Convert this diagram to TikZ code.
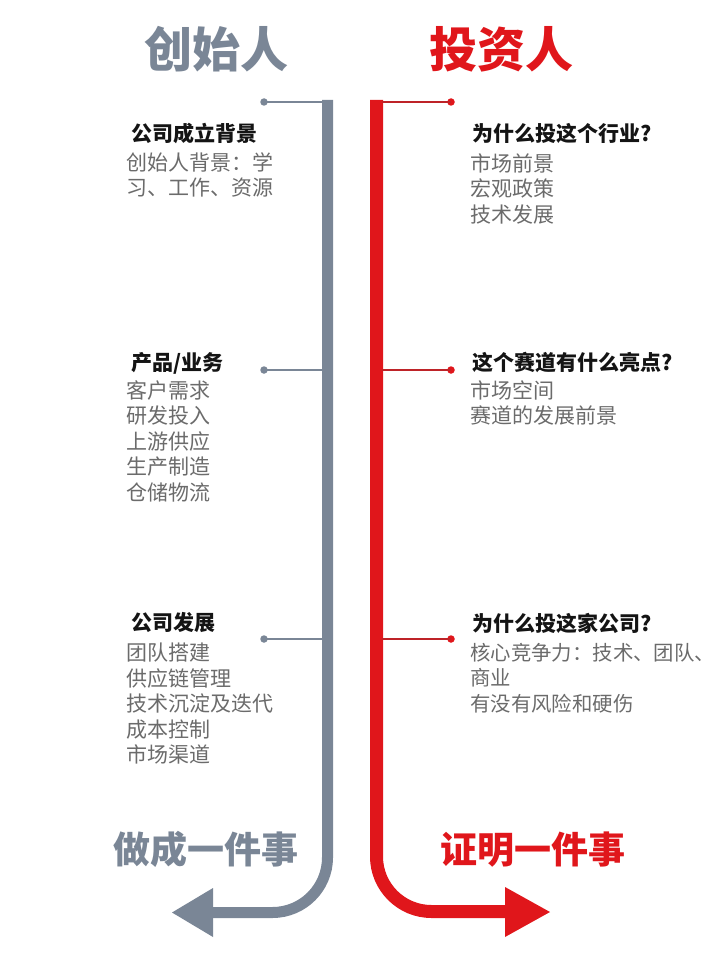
\documentclass[tikz,border=0pt]{standalone}
\usepackage{fontspec}
\newfontfamily\cjk{Noto Sans CJK SC}
\definecolor{slate}{HTML}{7A8696}
\definecolor{redA}{HTML}{E0161B}
\definecolor{redB}{HTML}{BE2328}
\definecolor{bodygray}{HTML}{6B6B6B}
\definecolor{headblack}{HTML}{141414}
\begin{document}
\begin{tikzpicture}[x=1pt,y=-1pt,
  head/.style={anchor=north west, inner sep=0pt, font=\cjk\bfseries\fontsize{21}{25.5}\selectfont, text=headblack},
  body/.style={anchor=north west, inner sep=0pt, align=left, font=\cjk\fontsize{21}{25.5}\selectfont, text=bodygray},
  title/.style={inner sep=0pt, font=\cjk\bfseries\fontsize{48}{48}\selectfont},
  motto/.style={inner sep=0pt, font=\cjk\bfseries\fontsize{37}{37}\selectfont},
  gbranch/.style={draw=slate, line width=2.5pt},
  rbranch/.style={draw=redB, line width=2.5pt},
  gdot/.style={circle, fill=slate, inner sep=0pt, minimum size=7.5pt},
  rdot/.style={circle, fill=redA, inner sep=0pt, minimum size=7.5pt},
  gtrunk/.style={draw=slate, line width=11pt, rounded corners=55pt},
  rtrunk/.style={draw=redA, line width=13pt, rounded corners=55pt}
]
\useasboundingbox (0,0) rectangle (720,960);

% titles
\node[title, text=slate] (t1) at (216,49.5) {创始人};
\node[title, text=redA] (t2) at (501,49.5) {投资人};

% trunks
\coordinate (gtop) at (327.5,100);
\coordinate (gcorner) at (327.5,912.5);
\coordinate (gend) at (210,912.5);
\coordinate (rtop) at (376.5,100);
\coordinate (rcorner) at (376.5,911.5);
\coordinate (rend) at (507,911.5);
\draw[gtrunk] (gtop) -- (gcorner) -- (gend);
\draw[rtrunk] (rtop) -- (rcorner) -- (rend);
\coordinate (gtip) at (172,912.5);
\coordinate (gb1) at (213,888);
\coordinate (gb2) at (213,937);
\fill[slate] (gtip) -- (gb1) -- (gb2) -- cycle;
\coordinate (rtip) at (550,912);
\coordinate (rb1) at (505,887);
\coordinate (rb2) at (505,937);
\fill[redA] (rtip) -- (rb1) -- (rb2) -- cycle;

% branches
\foreach \i/\yy in {1/102,2/370,3/639}{
  \node[gdot] (gd\i) at (264,\yy) {};
  \coordinate (gj\i) at (323,\yy);
  \draw[gbranch] (gd\i.center) -- (gj\i);
  \node[rdot] (rd\i) at (451,\yy) {};
  \coordinate (rj\i) at (382,\yy);
  \draw[rbranch] (rj\i) -- (rd\i.center);
}

% left texts
\node[head] (lh1) at (131,123) {公司成立背景};
\node[body] (lb1) at (126,152) {创始人背景：学\\习、工作、资源};
\node[head] (lh2) at (131,352) {产品/业务};
\node[body] (lb2) at (126,380) {客户需求\\研发投入\\上游供应\\生产制造\\仓储物流};
\node[head] (lh3) at (131,612) {公司发展};
\node[body] (lb3) at (126,643) {团队搭建\\供应链管理\\技术沉淀及迭代\\成本控制\\市场渠道};

% right texts
\node[head] (rh1) at (472,123) {为什么投这个行业?};
\node[body] (rb1t) at (470,153) {市场前景\\宏观政策\\技术发展};
\node[head] (rh2) at (472,352) {这个赛道有什么亮点?};
\node[body] (rb2t) at (470,380) {市场空间\\赛道的发展前景};
\node[head] (rh3) at (472,613) {为什么投这家公司?};
\node[body, font=\cjk\fontsize{20.4}{25.5}\selectfont] (rb3t) at (470,643) {核心竞争力：技术、团队、\\商业\\有没有风险和硬伤};

% mottos
\node[motto, text=slate] (m1) at (206,849) {做成一件事};
\node[motto, text=redA] (m2) at (533,850) {证明一件事};
\end{tikzpicture}
\end{document}
